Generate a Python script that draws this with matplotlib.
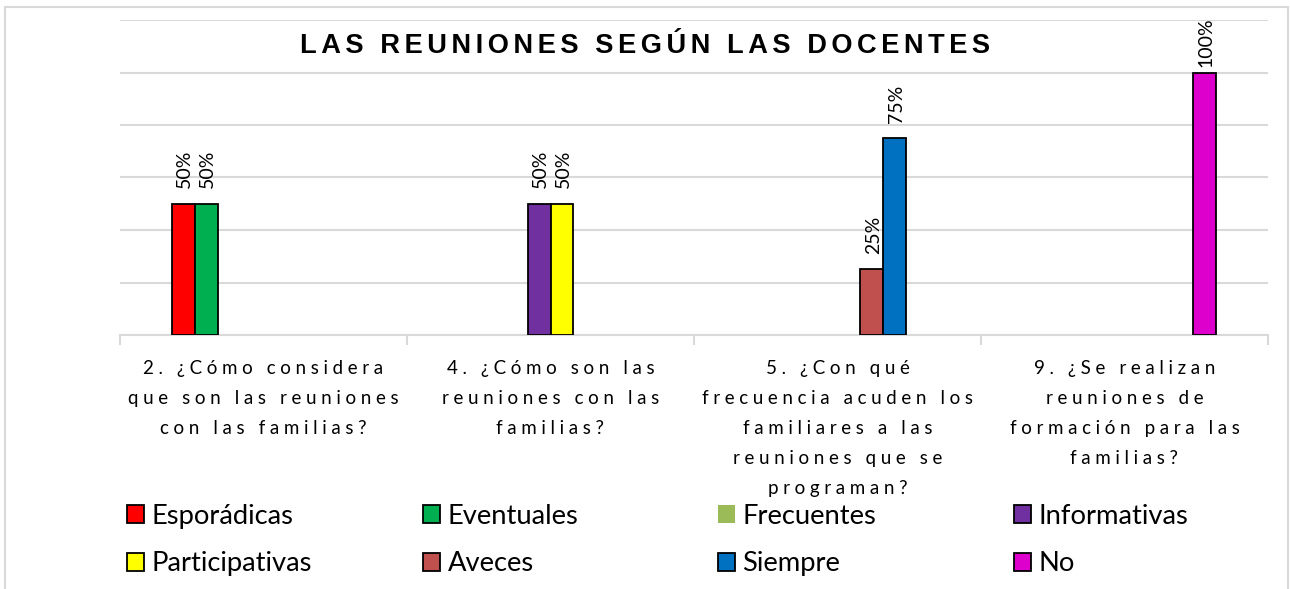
import numpy as np
import matplotlib
matplotlib.use("Agg")
import matplotlib.pyplot as plt
from matplotlib.patches import Rectangle, Patch

# data
categories = [
    "2. ¿Cómo considera\nque son las reuniones\ncon las familias?",
    "4. ¿Cómo son las\nreuniones con las\nfamilias?",
    "5. ¿Con qué\nfrecuencia acuden los\nfamiliares a las\nreuniones que se\nprograman?",
    "9. ¿Se realizan\nreuniones de\nformación para las\nfamilias?",
]
series_names = ["Esporádicas", "Eventuales", "Frecuentes", "Informativas",
                "Participativas", "Aveces", "Siempre", "No"]
esporadicas = [0.50, 0, 0, 0]
eventuales = [0.50, 0, 0, 0]
frecuentes = [0, 0, 0, 0]
informativas = [0, 0.50, 0, 0]
participativas = [0, 0.50, 0, 0]
aveces = [0, 0, 0.25, 0]
siempre = [0, 0, 0.75, 0]
no = [0, 0, 0, 1.00]
title = "LAS REUNIONES SEGÚN LAS DOCENTES"

values = [esporadicas, eventuales, frecuentes, informativas,
          participativas, aveces, siempre, no]
colors = ["#FF0000", "#00B050", "#9BBB59", "#7030A0",
          "#FFFF00", "#C0504D", "#0070C0", "#DD00CC"]


def spaced(text, sep):
    # Excel-like letter spacing
    return "\n".join(sep.join(line) for line in text.split("\n"))


W, H = 1290, 589
fig = plt.figure(figsize=(W / 100, H / 100), dpi=100)
ax = fig.add_axes([120 / W, 1 - 335 / H, 1148 / W, 315 / H])

# outer chart frame
fig.add_artist(Rectangle((5 / W, -0.05), 1283 / W, 1 - 7 / H + 0.05,
                         transform=fig.transFigure, fill=False,
                         edgecolor="#D9D9D9", lw=1.5))

x = np.arange(len(categories))
bw = 0.08
labels = []
for j, (name, vals, col) in enumerate(zip(series_names, values, colors)):
    vals = np.array(vals, dtype=float)
    m = vals > 0
    xs = x[m] + (j - 3.5) * bw
    ax.bar(xs, vals[m], width=bw, color=col, edgecolor="black", lw=1.3, zorder=3)
    for xi, v in zip(xs, vals[m]):
        t = ax.annotate(f"{v:.0%}", (xi, v), xytext=(1, 11), textcoords="offset points",
                        rotation=90, ha="center", va="bottom", fontsize=14,
                        family=["Lato", "DejaVu Sans"], annotation_clip=False, zorder=4)
        labels.append(t)

ax.set_xlim(-0.5, 3.5)
ax.set_ylim(0, 1.2)
ax.set_yticks(np.arange(0, 1.21, 0.2))
ax.yaxis.grid(True, color="#D9D9D9", lw=1.5)
ax.set_axisbelow(True)
ax.tick_params(axis="y", length=0, labelleft=False)
for s in ["top", "right", "left"]:
    ax.spines[s].set_visible(False)
ax.spines["bottom"].set_color("#D9D9D9")
ax.spines["bottom"].set_linewidth(1.5)

# category boundary ticks, labels between them
ax.set_xticks(np.arange(-0.5, 3.6, 1))
ax.tick_params(axis="x", length=7, color="#D9D9D9", width=1.5, labelbottom=False)
for xi, lab in zip(x, categories):
    ax.annotate(spaced(lab, "\u2009\u200a\u200a"), (xi, 0), xytext=(0, -18),
                textcoords="offset points", ha="center", va="top", fontsize=13.5,
                linespacing=1.92, family=["Lato", "DejaVu Sans"],
                xycoords=ax.get_xaxis_transform())

fig.text(0.5, 1 - 46 / H, spaced(title, "\u200a\u200a"), ha="center", va="center",
         fontsize=19.6, fontweight="bold", family=["Liberation Sans", "DejaVu Sans"])

# legend: four equal columns, two rows
col_x = [102, 398, 693, 989]
for c in range(4):
    handles = []
    for j in (c, c + 4):
        edge = "none" if series_names[j] == "Frecuentes" else "black"
        handles.append(Patch(facecolor=colors[j], edgecolor=edge, lw=1.3,
                             label=series_names[j]))
    fig.legend(handles=handles, loc="upper left",
               bbox_to_anchor=(col_x[c] / W, 1 - 479 / H),
               frameon=False, handlelength=0.62, handleheight=0.62,
               handletextpad=0.29, labelspacing=0.83,
               prop={"family": "Lato", "size": 19.7})

# keep labels that would leave the chart top inside, as Excel does
fig.canvas.draw()
r = fig.canvas.get_renderer()
for t in labels:
    bb = t.get_window_extent(r)
    top_px = H - bb.y1
    if top_px < 17:
        t.xyann = (t.xyann[0], t.xyann[1] - (17 - top_px) * 0.72)

fig.savefig("out.png", dpi=100)
